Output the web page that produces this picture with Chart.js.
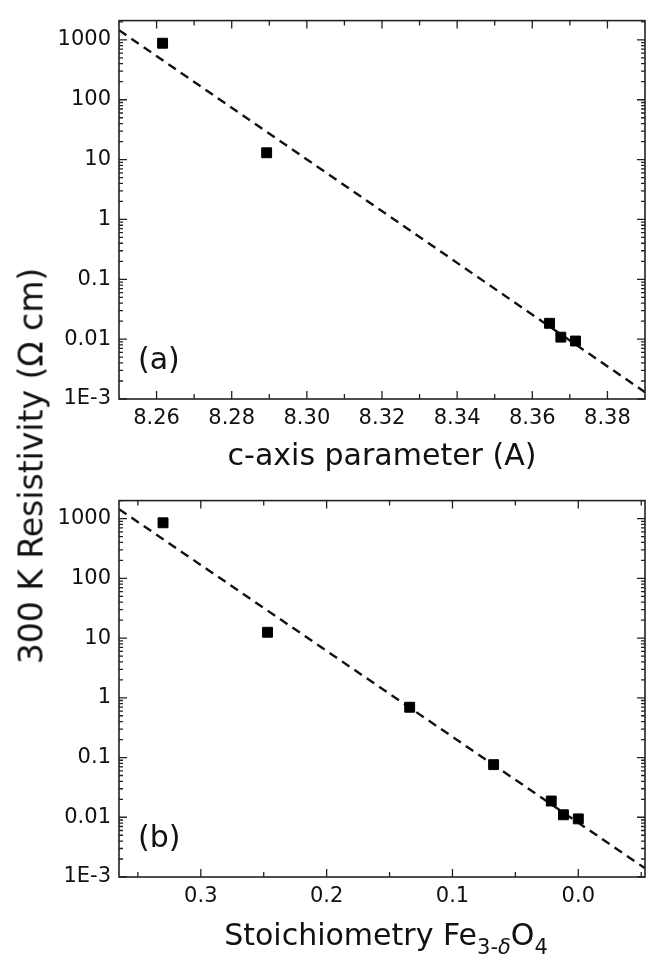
<!DOCTYPE html>
<html>
<head>
<meta charset="utf-8">
<script src="https://cdn.jsdelivr.net/npm/chart.js@4.4.1/dist/chart.umd.min.js"></script>
<style>
  html, body { margin: 0; padding: 0; background: #fff; }
  #wrap { position: relative; width: 653px; height: 966px; overflow: hidden; font-family: 'DejaVu Sans', sans-serif; color: #111; }
  #boxA { position: absolute; left: 0; top: 0; }
  #boxB { position: absolute; left: 0; top: 480px; }
  #yTitle { position: absolute; left: 31px; top: 466px; transform: translate(-50%, -50%) rotate(-90deg); white-space: nowrap; font-size: 33px; }
  #xTitleB { position: absolute; left: 386px; top: 935px; transform: translate(-50%, -50%); white-space: nowrap; font-size: 30px; line-height: 1; }
  .sub { font-size: 21px; position: relative; top: 9px; }
</style>
</head>
<body>
<div id="wrap">
  <canvas id="boxA" width="653" height="480"></canvas>
  <canvas id="boxB" width="653" height="486"></canvas>
  <div id="yTitle">300 K Resistivity (&Omega; cm)</div>
  <div id="xTitleB">Stoichiometry Fe<span class="sub">3-<i>&delta;</i></span>O<span class="sub">4</span></div>
</div>
<script>
// panel (a): resistivity vs c-axis parameter
const cAxisA = [8.2616, 8.2893, 8.3646, 8.3676, 8.3715];
const rhoA = [880, 13, 0.0184, 0.0108, 0.0093];
const fitXA = [8.25, 8.39];
const fitYA = [1455, 0.0013];

// panel (b): resistivity vs delta in Fe(3-delta)O4
const deltaB = [0.330, 0.247, 0.134, 0.0673, 0.0215, 0.0118, 0.0];
const rhoB = [850, 12.5, 0.695, 0.076, 0.0187, 0.011, 0.0094];
const fitXB = [0.365, -0.053];
const fitYB = [1440, 0.0014];

// tick labels
const cAxisTicks = [8.26, 8.28, 8.30, 8.32, 8.34, 8.36, 8.38];
const cAxisMinor = [8.27, 8.29, 8.31, 8.33, 8.35, 8.37];
const deltaTicks = [0.3, 0.2, 0.1, 0.0];
const deltaMinor = [0.35, 0.25, 0.15, 0.05, -0.05];
const rhoTicks = [0.001, 0.01, 0.1, 1, 10, 100, 1000];

const FONT = "'DejaVu Sans', sans-serif";
const INK = '#111';

function rhoMinor(max) {
  const out = [];
  rhoTicks.forEach(d => {
    for (let m = 2; m <= 9; m++) {
      if (d * m <= max) out.push(d * m);
    }
  });
  return out;
}

function toPoints(xs, ys) {
  return xs.map((x, i) => ({ x: x, y: ys[i] }));
}

// inward ticks on all four sides, the frame and the panel letter
const frameTicks = {
  id: 'frameTicks',
  afterDatasetsDraw(chart, args, opts) {
    const { ctx, chartArea: a, scales: { x, y } } = chart;
    ctx.save();
    ctx.strokeStyle = '#222';
    ctx.lineWidth = 1.3;
    ctx.beginPath();
    const xt = (vals, len) => vals.forEach(v => {
      const px = x.getPixelForValue(v);
      ctx.moveTo(px, a.bottom); ctx.lineTo(px, a.bottom - len);
      ctx.moveTo(px, a.top); ctx.lineTo(px, a.top + len);
    });
    const yt = (vals, len) => vals.forEach(v => {
      const py = y.getPixelForValue(v);
      ctx.moveTo(a.left, py); ctx.lineTo(a.left + len, py);
      ctx.moveTo(a.right, py); ctx.lineTo(a.right - len, py);
    });
    xt(opts.xMajor, 8);
    xt(opts.xMinor, 5);
    yt(rhoTicks, 8);
    yt(rhoMinor(y.max), 4);
    ctx.stroke();
    ctx.lineWidth = 1.6;
    ctx.strokeRect(a.left, a.top, a.width, a.height);
    ctx.fillStyle = INK;
    ctx.font = '30px ' + FONT;
    ctx.textAlign = 'left';
    ctx.textBaseline = 'middle';
    ctx.fillText(opts.label, a.left + 19, a.bottom - 38);
    ctx.restore();
  }
};

function makeChart(id, o) {
  return new Chart(document.getElementById(id), {
    type: 'scatter',
    data: {
      datasets: [{
        data: toPoints(o.xs, o.ys),
        pointStyle: 'rect',
        pointRadius: 7,
        backgroundColor: '#000',
        borderColor: '#000',
        borderWidth: 1
      }, {
        data: toPoints(o.fitX, o.fitY),
        showLine: true,
        borderColor: INK,
        borderWidth: 2.4,
        borderDash: [9, 6],
        pointRadius: 0
      }]
    },
    options: {
      responsive: false,
      animation: false,
      layout: { padding: { top: o.padTop, right: 3, left: 0, bottom: 0 } },
      plugins: {
        legend: { display: false },
        tooltip: { enabled: false },
        frameTicks: { label: o.label, xMajor: o.xTicks, xMinor: o.xMinor }
      },
      scales: {
        x: {
          type: 'linear',
          min: o.xMin,
          max: o.xMax,
          reverse: o.reverse,
          grid: { display: false, drawTicks: false },
          border: { display: false },
          afterBuildTicks: s => { s.ticks = o.xTicks.map(v => ({ value: v })); },
          afterFit: s => { s.height = o.xHeight; },
          ticks: {
            autoSkip: false,
            maxRotation: 0,
            padding: 7,
            color: INK,
            font: { family: FONT, size: 21 },
            callback: v => v.toFixed(o.decimals)
          },
          title: {
            display: !!o.xTitle,
            text: o.xTitle,
            color: INK,
            font: { family: FONT, size: 30 },
            padding: { top: 0, bottom: 5 }
          }
        },
        y: {
          type: 'logarithmic',
          min: 0.001,
          max: o.yMax,
          grid: { display: false, drawTicks: false },
          border: { display: false },
          afterBuildTicks: s => { s.ticks = rhoTicks.map(v => ({ value: v })); },
          afterFit: s => { s.width = 119; },
          ticks: {
            padding: 8,
            color: INK,
            font: { family: FONT, size: 21 },
            callback: v => (v === 0.001 ? '1E-3' : String(v))
          }
        }
      }
    },
    plugins: [frameTicks]
  });
}

makeChart('boxA', {
  xs: cAxisA, ys: rhoA, fitX: fitXA, fitY: fitYA,
  xMin: 8.25, xMax: 8.39, reverse: false, decimals: 2,
  xTicks: cAxisTicks, xMinor: cAxisMinor,
  yMax: 2100, padTop: 10, xHeight: 81,
  xTitle: 'c-axis parameter (A)', label: '(a)'
});

makeChart('boxB', {
  xs: deltaB, ys: rhoB, fitX: fitXB, fitY: fitYB,
  xMin: -0.053, xMax: 0.365, reverse: true, decimals: 1,
  xTicks: deltaTicks, xMinor: deltaMinor,
  yMax: 2000, padTop: 9, xHeight: 89,
  xTitle: '', label: '(b)'
});
</script>
</body>
</html>
